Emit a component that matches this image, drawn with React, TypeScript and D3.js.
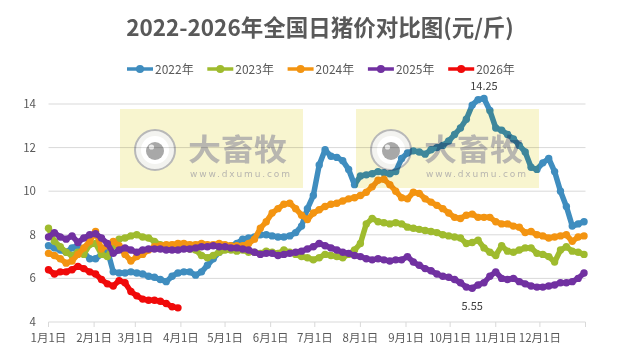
import React from "react";
import * as d3 from "d3";

const W = 622;
const H = 358;
const DAY_STEP = 4;

const monthStarts = [0, 31, 59, 90, 120, 151, 181, 212, 243, 273, 304, 334, 365];
const monthLabels = ["1月1日", "2月1日", "3月1日", "4月1日", "5月1日", "6月1日", "7月1日", "8月1日", "9月1日", "10月1日", "11月1日", "12月1日"];
const yTicks = [4, 6, 8, 10, 12, 14];
const seriesNames = ["2022年", "2023年", "2024年", "2025年", "2026年"];
const seriesColors = ["#3f8dbf", "#9fbb2e", "#f39411", "#7131a1", "#f00a0a"];

// values every 4 days starting Jan 1
const p2022 = [7.5, 7.4, 7.3, 7.2, 7.4, 7.5, 7.2, 6.9, 6.9, 7.1, 7.3, 6.3, 6.25, 6.25, 6.3, 6.25, 6.2, 6.1, 6.05, 5.95, 5.85, 6.1, 6.25, 6.3, 6.3, 6.15, 6.3, 6.6, 6.9, 7.2, 7.45, 7.5, 7.6, 7.8, 7.85, 7.9, 8.0, 8.0, 7.95, 7.9, 7.9, 7.95, 8.1, 8.4, 9.2, 9.8, 11.2, 11.9, 11.6, 11.55, 11.4, 11.0, 10.3, 10.7, 10.75, 10.8, 10.9, 10.85, 10.8, 10.9, 11.5, 11.75, 11.85, 11.8, 11.7, 11.9, 12.0, 12.1, 12.3, 12.6, 12.9, 13.3, 13.95, 14.2, 14.25, 13.7, 12.9, 12.8, 12.6, 12.4, 12.1, 11.8, 11.1, 11.0, 11.3, 11.5, 10.9, 10.0, 9.3, 8.4, 8.5, 8.6];
const p2023 = [8.3, 7.7, 7.45, 7.2, 7.05, 7.2, 7.1, 7.55, 7.6, 7.1, 7.0, 7.5, 7.8, 7.85, 7.95, 8.0, 7.9, 7.85, 7.7, 7.55, 7.5, 7.45, 7.4, 7.4, 7.35, 7.3, 7.05, 6.95, 7.05, 7.2, 7.3, 7.3, 7.25, 7.3, 7.2, 7.2, 7.15, 7.25, 7.2, 7.15, 7.3, 7.2, 7.1, 7.0, 6.95, 6.85, 6.95, 7.1, 7.05, 7.0, 6.95, 7.1, 7.3, 7.6, 8.5, 8.75, 8.6, 8.55, 8.5, 8.55, 8.5, 8.35, 8.3, 8.25, 8.2, 8.15, 8.1, 8.0, 7.95, 7.9, 7.85, 7.6, 7.65, 7.75, 7.4, 7.2, 7.05, 7.5, 7.25, 7.2, 7.3, 7.4, 7.4, 7.15, 7.1, 7.0, 6.75, 7.3, 7.45, 7.25, 7.2, 7.1];
const p2024 = [7.15, 7.05, 6.9, 6.7, 6.8, 7.1, 7.4, 7.7, 8.15, 7.35, 7.5, 7.7, 7.5, 7.1, 6.8, 7.0, 7.1, 7.3, 7.45, 7.5, 7.55, 7.55, 7.6, 7.6, 7.55, 7.55, 7.6, 7.55, 7.55, 7.6, 7.55, 7.5, 7.5, 7.5, 7.6, 7.8, 8.3, 8.6, 9.0, 9.2, 9.4, 9.45, 9.2, 8.9, 8.7, 9.0, 9.15, 9.3, 9.4, 9.45, 9.55, 9.65, 9.7, 9.8, 9.95, 10.2, 10.5, 10.55, 10.3, 10.0, 9.7, 9.65, 9.95, 9.9, 9.65, 9.5, 9.35, 9.2, 9.0, 8.8, 8.75, 8.9, 8.95, 8.8, 8.8, 8.8, 8.6, 8.5, 8.5, 8.4, 8.35, 8.1, 8.15, 8.0, 7.95, 7.85, 7.9, 7.95, 8.0, 7.7, 7.9, 7.95];
const p2025 = [7.9, 8.1, 7.9, 7.8, 7.95, 7.65, 7.85, 8.0, 8.05, 7.85, 7.6, 7.15, 7.3, 7.4, 7.3, 7.2, 7.3, 7.35, 7.35, 7.35, 7.3, 7.3, 7.3, 7.35, 7.35, 7.4, 7.45, 7.45, 7.5, 7.45, 7.45, 7.4, 7.4, 7.35, 7.3, 7.2, 7.1, 7.15, 7.15, 7.05, 7.1, 7.15, 7.2, 7.25, 7.35, 7.45, 7.6, 7.5, 7.4, 7.3, 7.2, 7.15, 7.05, 7.0, 6.9, 6.85, 6.9, 6.85, 6.8, 6.85, 6.85, 7.0, 6.75, 6.6, 6.45, 6.35, 6.2, 6.1, 6.05, 5.95, 5.8, 5.6, 5.55, 5.7, 5.8, 6.1, 6.3, 6.0, 5.95, 6.0, 5.85, 5.75, 5.65, 5.6, 5.6, 5.65, 5.7, 5.8, 5.8, 5.85, 6.0, 6.25];
const p2026 = [6.4, 6.2, 6.3, 6.3, 6.4, 6.55, 6.45, 6.3, 6.2, 5.95, 5.75, 5.65, 5.9, 5.8, 5.4, 5.2, 5.05, 5.0, 5.0, 4.95, 4.85, 4.7, 4.65];

const allSeries = [p2022, p2023, p2024, p2025, p2026];

const FONT = "'Noto Sans CJK SC', 'Noto Sans', sans-serif";

const x = d3.scaleLinear().domain([0, 365]).range([48.5, 585.5]);
const y = d3.scaleLinear().domain([4, 14]).range([322, 104]);

function Watermark({ x0, y0 }: { x0: number; y0: number }) {
  return (
    <g transform={`translate(${x0},${y0})`} style={{ mixBlendMode: "multiply" }}>
      <rect x={0} y={0} width={183} height={79} fill="#f8f5cf" />
      <circle cx={35} cy={41} r={20} fill="#f3f3f0" stroke="#b8b8b8" strokeWidth={2} />
      <circle cx={35} cy={41} r={14} fill="#ffffff" />
      <circle cx={35} cy={42} r={9} fill="#a8a8a8" />
      <circle cx={31.5} cy={38} r={2.6} fill="#ebebeb" />
      <text x={68} y={51} fontSize={30} fontWeight={700} fill="#b8b6b0" fontFamily={FONT} textLength={99} lengthAdjust="spacingAndGlyphs">大畜牧</text>
      <text x={70} y={68} fontSize={9} fill="#b8b6b0" fontFamily="'DejaVu Sans', sans-serif" textLength={100} lengthAdjust="spacing">www.dxumu.com</text>
    </g>
  );
}

export default function App() {
  const line = d3
    .line<number>()
    .x((_, i) => x(i * DAY_STEP))
    .y((d) => y(d));

  const maxIdx = d3.maxIndex(p2022);
  const minIdx = d3.minIndex(p2025);

  return (
    <svg width={W} height={H} style={{ position: "absolute", left: 0, top: 0, background: "#fff" }} fontFamily={FONT}>
      <rect width={W} height={H} fill="#ffffff" />
      <text x={320} y={36} textAnchor="middle" fontSize={22.5} fontWeight={700} fill="#595959">
        2022-2026年全国日猪价对比图(元/斤)
      </text>

      {/* legend */}
      {seriesNames.map((n, i) => {
        const lx = 127 + i * 80.3;
        return (
          <g key={n}>
            <line x1={lx} x2={lx + 26} y1={69} y2={69} stroke={seriesColors[i]} strokeWidth={3.5} />
            <circle cx={lx + 13} cy={69} r={4} fill={seriesColors[i]} />
            <text x={lx + 28} y={73.5} fontSize={12} fill="#595959">{n}</text>
          </g>
        );
      })}

      {/* grid */}
      {yTicks.map((t) => (
        <g key={t}>
          <line x1={x(0)} x2={x(365)} y1={y(t)} y2={y(t)} stroke="#d9d9d9" strokeWidth={1} />
          <text x={36} y={y(t) + 4} textAnchor="end" fontSize={11.5} fill="#595959">{t}</text>
        </g>
      ))}
      {monthStarts.map((d) => (
        <line key={d} x1={x(d)} x2={x(d)} y1={y(4)} y2={y(4) + 5} stroke="#d9d9d9" />
      ))}
      {monthLabels.map((l, i) => (
        <text key={l} x={x(monthStarts[i])} y={342} textAnchor="middle" fontSize={11.5} fill="#595959">{l}</text>
      ))}

      {/* series */}
      {allSeries.map((s, si) => (
        <g key={si}>
          <path d={line(s) || ""} fill="none" stroke={seriesColors[si]} strokeWidth={5.5} strokeLinejoin="round" strokeLinecap="round" />
          {s.map((v, i) => (
            <circle key={i} cx={x(i * DAY_STEP)} cy={y(v)} r={3.7} fill={seriesColors[si]} />
          ))}
        </g>
      ))}

      {/* data labels */}
      <text x={x(maxIdx * DAY_STEP)} y={y(p2022[maxIdx]) - 9} textAnchor="middle" fontSize={11} fill="#404040">
        {p2022[maxIdx].toFixed(2)}
      </text>
      <text x={x(minIdx * DAY_STEP)} y={y(p2025[minIdx]) + 22} textAnchor="middle" fontSize={11} fill="#404040">
        {p2025[minIdx].toFixed(2)}
      </text>

      <Watermark x0={120} y0={109} />
      <Watermark x0={356} y0={109} />
    </svg>
  );
}
